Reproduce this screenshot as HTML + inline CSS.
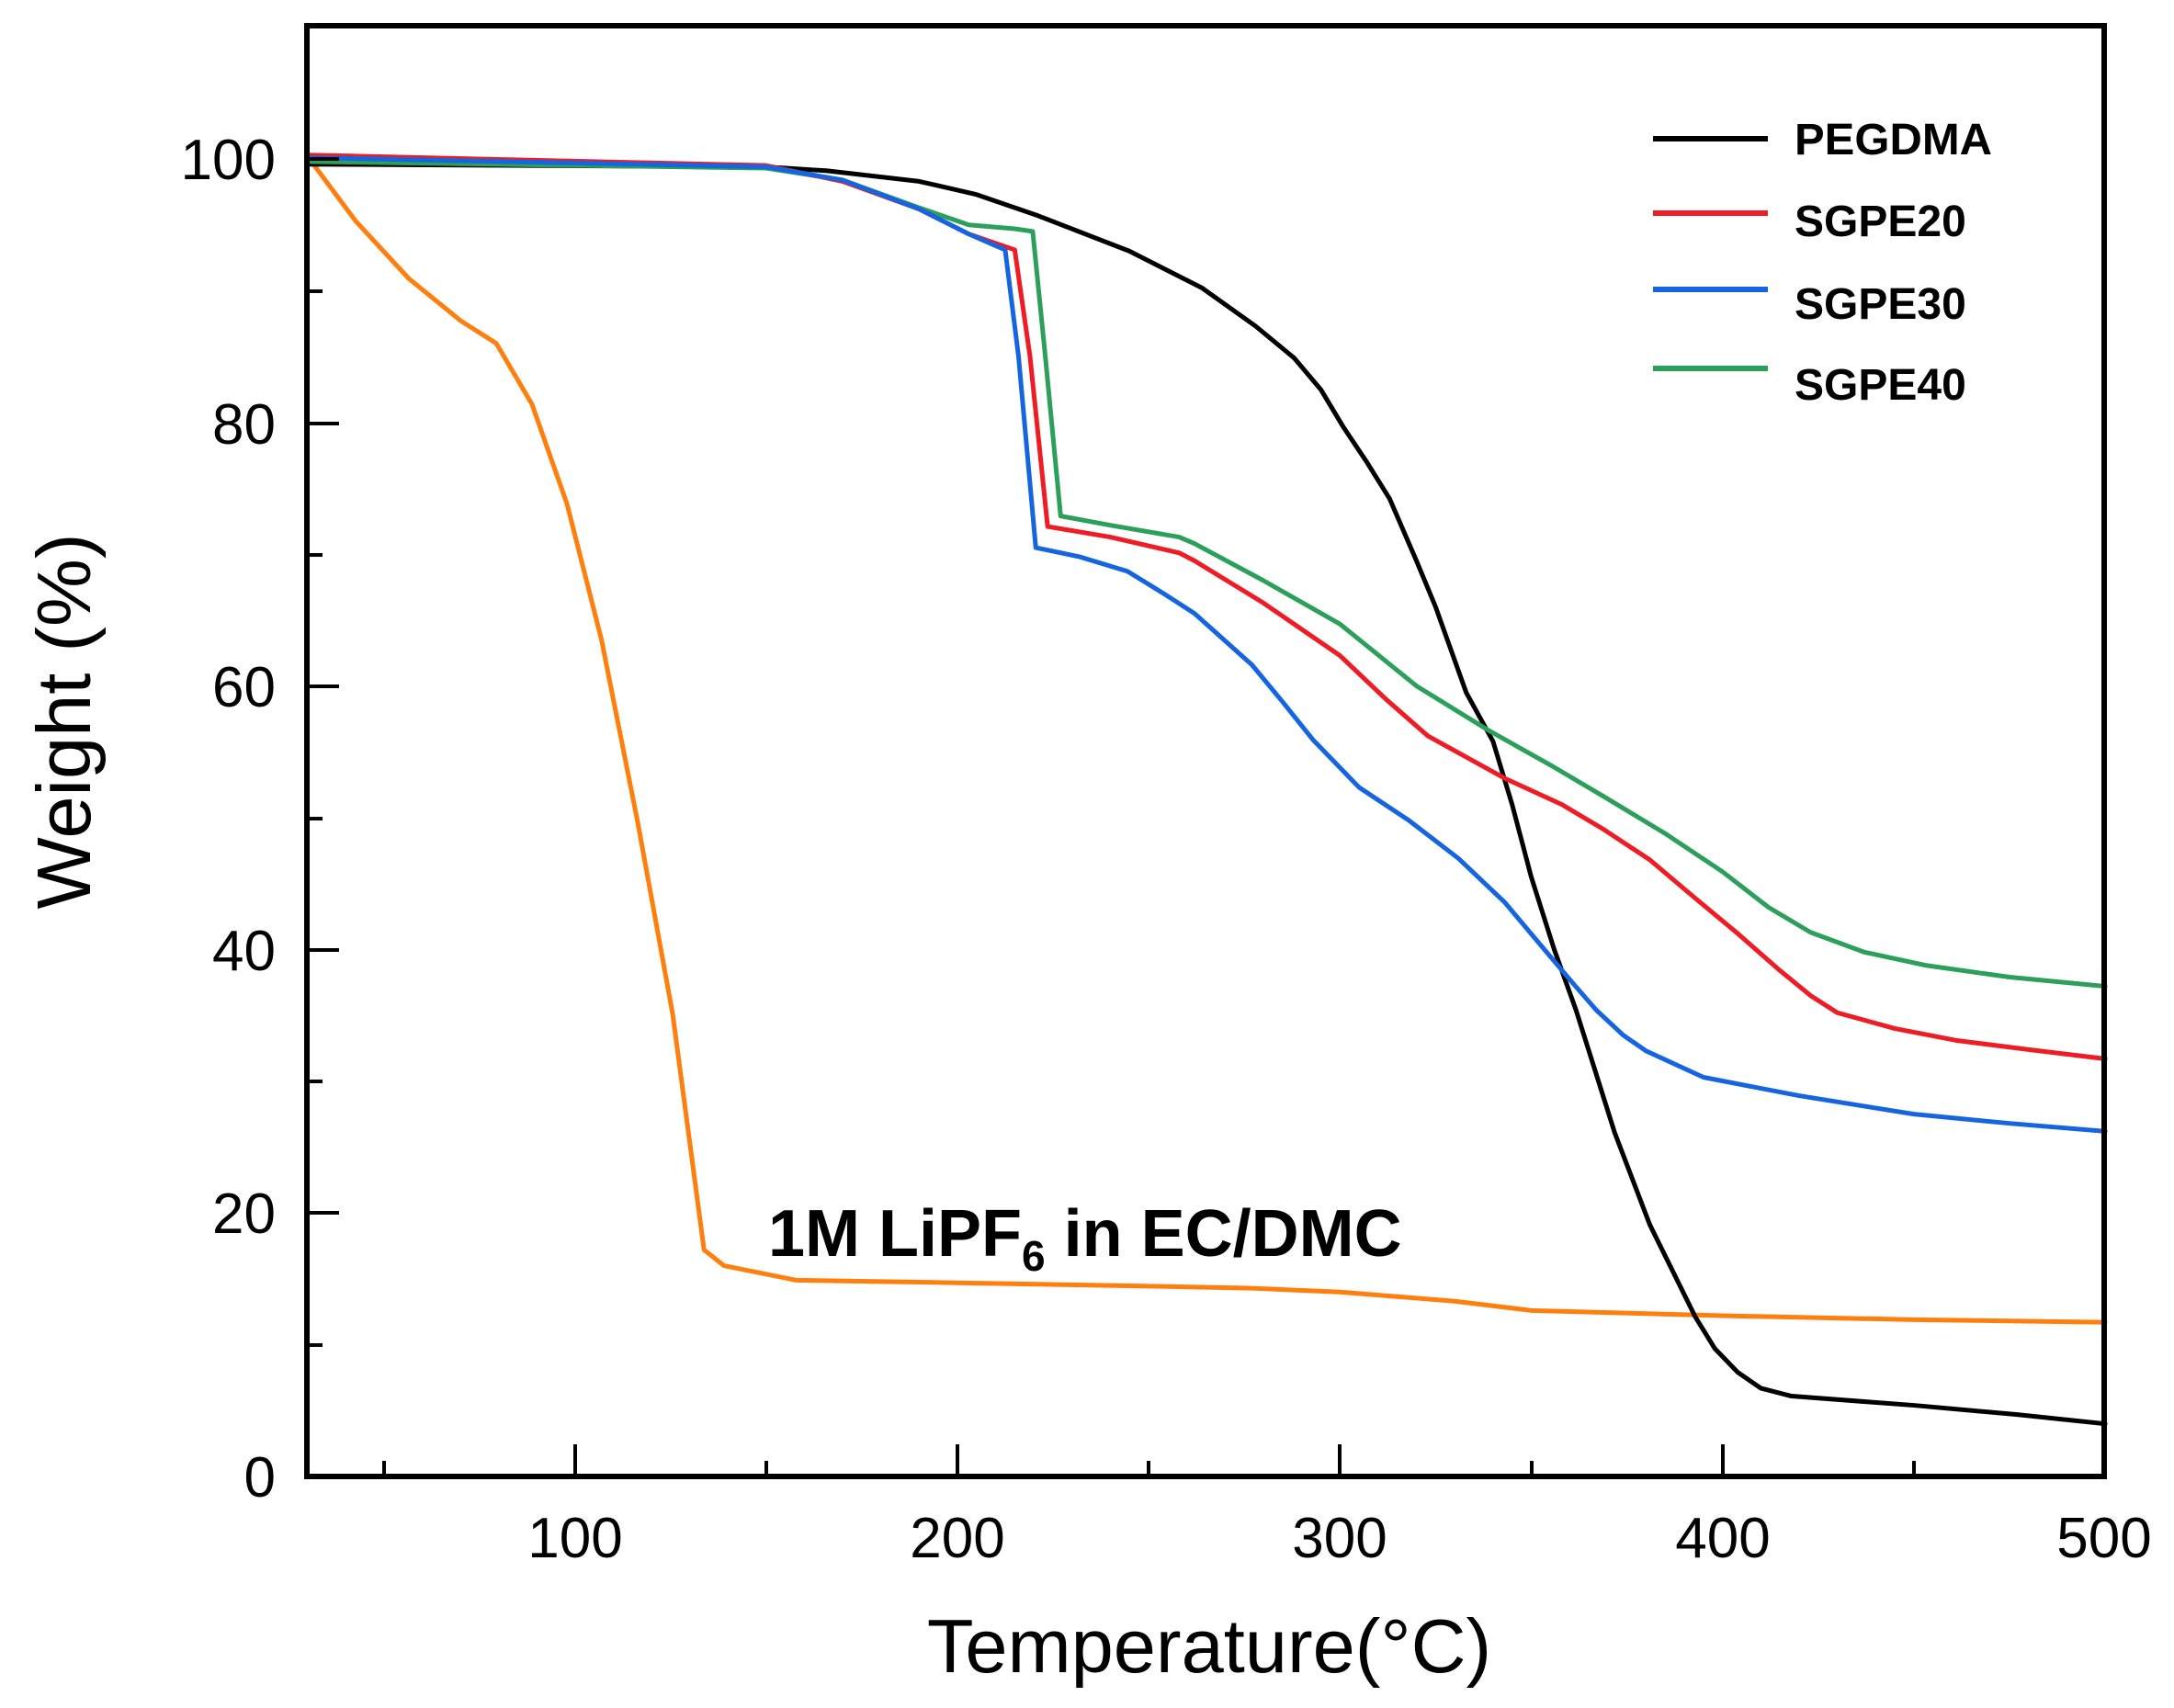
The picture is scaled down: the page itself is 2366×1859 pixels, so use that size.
<!DOCTYPE html>
<html><head><meta charset="utf-8"><style>
html,body{margin:0;padding:0;background:#fff}
svg{display:block}
text{font-family:"Liberation Sans",Arial,sans-serif}
</style></head><body>
<svg width="2366" height="1859" viewBox="0 0 2366 1859" xmlns="http://www.w3.org/2000/svg">
<rect width="2366" height="1859" fill="#fff"/>
<g transform="translate(209.08,1607) scale(4.164,-14.34)" fill="none" stroke-linejoin="round" stroke-linecap="round">
<polyline vector-effect="non-scaling-stroke" stroke="#ff7f0e" stroke-width="5" points="30,100 31.7,99.6 42.7,95.3 56.7,90.9 70.3,87.7 79.5,86 88.8,81.4 98,73.8 107,63.5 116.5,49.6 125.6,35.1 133.8,17.2 139,16 157.8,14.9 200,14.7 240,14.5 276,14.3 300,14 330,13.3 350,12.6 400,12.2 450,11.9 500,11.7"/>
<polyline vector-effect="non-scaling-stroke" stroke="#000" stroke-width="5" points="30,99.6 150,99.4 166,99.1 190,98.3 205,97.3 221,95.7 245,93 264,90.2 278,87.3 288,84.9 295,82.5 301,79.6 307,77 313,74.2 320,69.5 325,66 333,59.5 340,55.8 345,51 350,45.5 356,40 361.7,35.4 371.8,26.1 381,19.1 392.9,12.1 398,9.7 404,7.9 410,6.7 418,6.1 450,5.4 477,4.7 500,4"/>
<polyline vector-effect="non-scaling-stroke" stroke="#2ca05a" stroke-width="5" points="30,99.8 150,99.3 170,98.4 190,96.3 203,95 215,94.7 219.7,94.5 223,85 227,72.9 240,72.2 258,71.3 262,70.8 280,68 300,64.7 320,60 339,56.6 355,54 369,51.6 385,48.8 400,45.9 412,43.2 423,41.3 437,39.8 453,38.8 475,37.9 500,37.2"/>
<polyline vector-effect="non-scaling-stroke" stroke="#ee1c25" stroke-width="5" points="30,100.3 150,99.5 170,98.3 190,96.2 203,94.3 215,93.1 219,85 223.6,72.1 240,71.3 258,70.1 262,69.5 280,66.3 300,62.3 312,59 323,56.2 343,53 358,51 369,49.1 381,46.8 392,44.1 404,41.2 415,38.4 423,36.5 430,35.2 445,34 461,33.1 480,32.4 500,31.7"/>
<polyline vector-effect="non-scaling-stroke" stroke="#1565e0" stroke-width="5" points="30,100.1 150,99.4 170,98.4 190,96.2 203,94.3 212.5,93.1 216,85 220.5,70.5 232,69.8 244.5,68.7 254,67 262,65.5 277,61.6 285,58.8 293,55.9 305,52.3 318,49.8 331,46.9 343,43.6 354,39.8 361,37.4 367,35.4 374,33.5 380,32.3 395,30.3 420,28.9 450,27.5 475,26.8 500,26.2"/>
</g>
<!-- frame -->
<rect x="334" y="28" width="1956" height="1579" fill="none" stroke="#000" stroke-width="6"/>
<g stroke="#000" stroke-width="4">
<line x1="626" y1="1607" x2="626" y2="1572"/><line x1="1042" y1="1607" x2="1042" y2="1572"/><line x1="1458" y1="1607" x2="1458" y2="1572"/><line x1="1875" y1="1607" x2="1875" y2="1572"/>
<line x1="418" y1="1607" x2="418" y2="1590"/><line x1="834" y1="1607" x2="834" y2="1590"/><line x1="1250" y1="1607" x2="1250" y2="1590"/><line x1="1667" y1="1607" x2="1667" y2="1590"/><line x1="2083" y1="1607" x2="2083" y2="1590"/>
<line x1="334" y1="1320" x2="369" y2="1320"/><line x1="334" y1="1034" x2="369" y2="1034"/><line x1="334" y1="747" x2="369" y2="747"/><line x1="334" y1="461" x2="369" y2="461"/><line x1="334" y1="173" x2="369" y2="173"/>
<line x1="334" y1="1464" x2="351" y2="1464"/><line x1="334" y1="1177" x2="351" y2="1177"/><line x1="334" y1="891" x2="351" y2="891"/><line x1="334" y1="604" x2="351" y2="604"/><line x1="334" y1="317" x2="351" y2="317"/>
</g>
<g font-size="62" fill="#000" text-anchor="middle">
<text x="626" y="1695">100</text><text x="1042" y="1695">200</text><text x="1458" y="1695">300</text><text x="1875" y="1695">400</text><text x="2290" y="1695">500</text>
</g>
<g font-size="62" fill="#000" text-anchor="end">
<text x="300" y="1629">0</text><text x="300" y="1342">20</text><text x="300" y="1056">40</text><text x="300" y="769">60</text><text x="300" y="483">80</text><text x="300" y="195">100</text>
</g>
<text x="1316" y="1820" font-size="83" text-anchor="middle">Temperature(°C)</text>
<text transform="translate(98,785) rotate(-90)" font-size="83" text-anchor="middle">Weight (%)</text>
<g stroke-width="6">
<line x1="1799" y1="151" x2="1924" y2="151" stroke="#000"/>
<line x1="1799" y1="232" x2="1924" y2="232" stroke="#ee1c25"/>
<line x1="1799" y1="315" x2="1924" y2="315" stroke="#1565e0"/>
<line x1="1799" y1="401" x2="1924" y2="401" stroke="#2ca05a"/>
</g>
<g font-size="48" font-weight="bold" fill="#000">
<text x="1953" y="168" textLength="215" lengthAdjust="spacingAndGlyphs">PEGDMA</text>
<text x="1953" y="257">SGPE20</text>
<text x="1953" y="347">SGPE30</text>
<text x="1953" y="435">SGPE40</text>
</g>
<text x="836" y="1367" font-size="72" font-weight="bold" fill="#000">1M LiPF<tspan font-size="46" dy="16">6</tspan><tspan dy="-16"> in EC/DMC</tspan></text>
</svg>
</body></html>
